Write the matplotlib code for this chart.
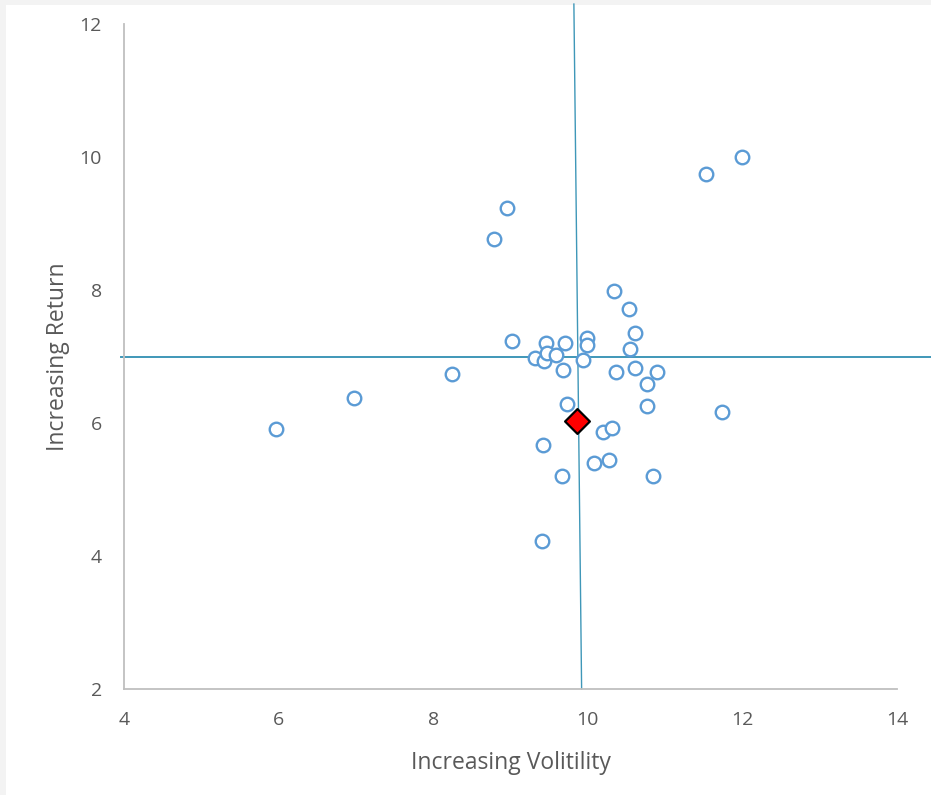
import matplotlib.pyplot as plt
from matplotlib.patches import Rectangle

# volatility / return of the funds
vol = [10.34, 10.53, 9.02, 9.46, 9.71, 9.99, 9.99, 10.61, 10.55, 9.32,
       9.43, 9.47, 9.59, 9.94, 8.24, 9.68, 10.36, 10.61, 10.90, 10.77,
       10.77, 9.73, 10.20, 10.31, 9.42, 10.08, 10.28, 9.67, 10.84, 9.41,
       5.96, 6.98, 8.95, 8.79, 11.53, 12.00, 11.73]
ret = [7.98, 7.71, 7.24, 7.20, 7.21, 7.28, 7.17, 7.35, 7.11, 6.97,
       6.93, 7.06, 7.03, 6.95, 6.74, 6.79, 6.77, 6.83, 6.77, 6.58,
       6.25, 6.28, 5.87, 5.93, 5.67, 5.40, 5.45, 5.21, 5.21, 4.22,
       5.91, 6.37, 9.23, 8.77, 9.74, 10.00, 6.17]

# the highlighted portfolio
port_vol = [9.86]
port_ret = [6.03]

# quadrant lines
hline_x = [3.96, 14.44]
hline_y = [7.0, 7.0]
vline_x = [9.82, 9.92]
vline_y = [12.30, 2.0]

plt.rcParams['font.family'] = ['Open Sans', 'DejaVu Sans']

fig = plt.figure(figsize=(9.31, 7.95), dpi=100, facecolor='#f3f3f3')
fig.patches.append(Rectangle((6 / 931, 0), 1, 1 - 5 / 795, transform=fig.transFigure,
                             facecolor='white', edgecolor='none', zorder=-1))

ax = fig.add_axes([124 / 931, 106 / 795, 773 / 931, 665 / 795])
ax.set_facecolor('none')
ax.set_zorder(2)

ax.plot(hline_x, hline_y, color='#3f97b8', lw=1.4, clip_on=False, zorder=2)
ax.plot(vline_x, vline_y, color='#3f97b8', lw=1.0, clip_on=False, zorder=2)

ax.scatter(vol, ret, s=95, facecolor='white', edgecolor='#5b9bd5', linewidth=1.7,
           zorder=3, clip_on=False)
ax.scatter(port_vol, port_ret, marker='D', s=160, facecolor='#ff0000', edgecolor='black',
           linewidth=1.6, zorder=4)

ax.set_xlim(4, 14)
ax.set_ylim(2, 12)
ax.set_xticks([4, 6, 8, 10, 12, 14])
ax.set_yticks([2, 4, 6, 8, 10, 12])

for s in ['top', 'right']:
    ax.spines[s].set_visible(False)
for s in ['left', 'bottom']:
    ax.spines[s].set_color('#bfbfbf')
    ax.spines[s].set_linewidth(1.3)

ax.tick_params(axis='both', length=0, labelsize=14, labelcolor='#595959')
ax.tick_params(axis='x', pad=16)
ax.tick_params(axis='y', pad=16)

ax.set_xlabel('Increasing Volitility', fontsize=16.5, color='#595959', labelpad=16)
ax.set_ylabel('Increasing Return', fontsize=16.5, color='#595959', labelpad=7)

fig.savefig('out.png', dpi=100, facecolor=fig.get_facecolor())
